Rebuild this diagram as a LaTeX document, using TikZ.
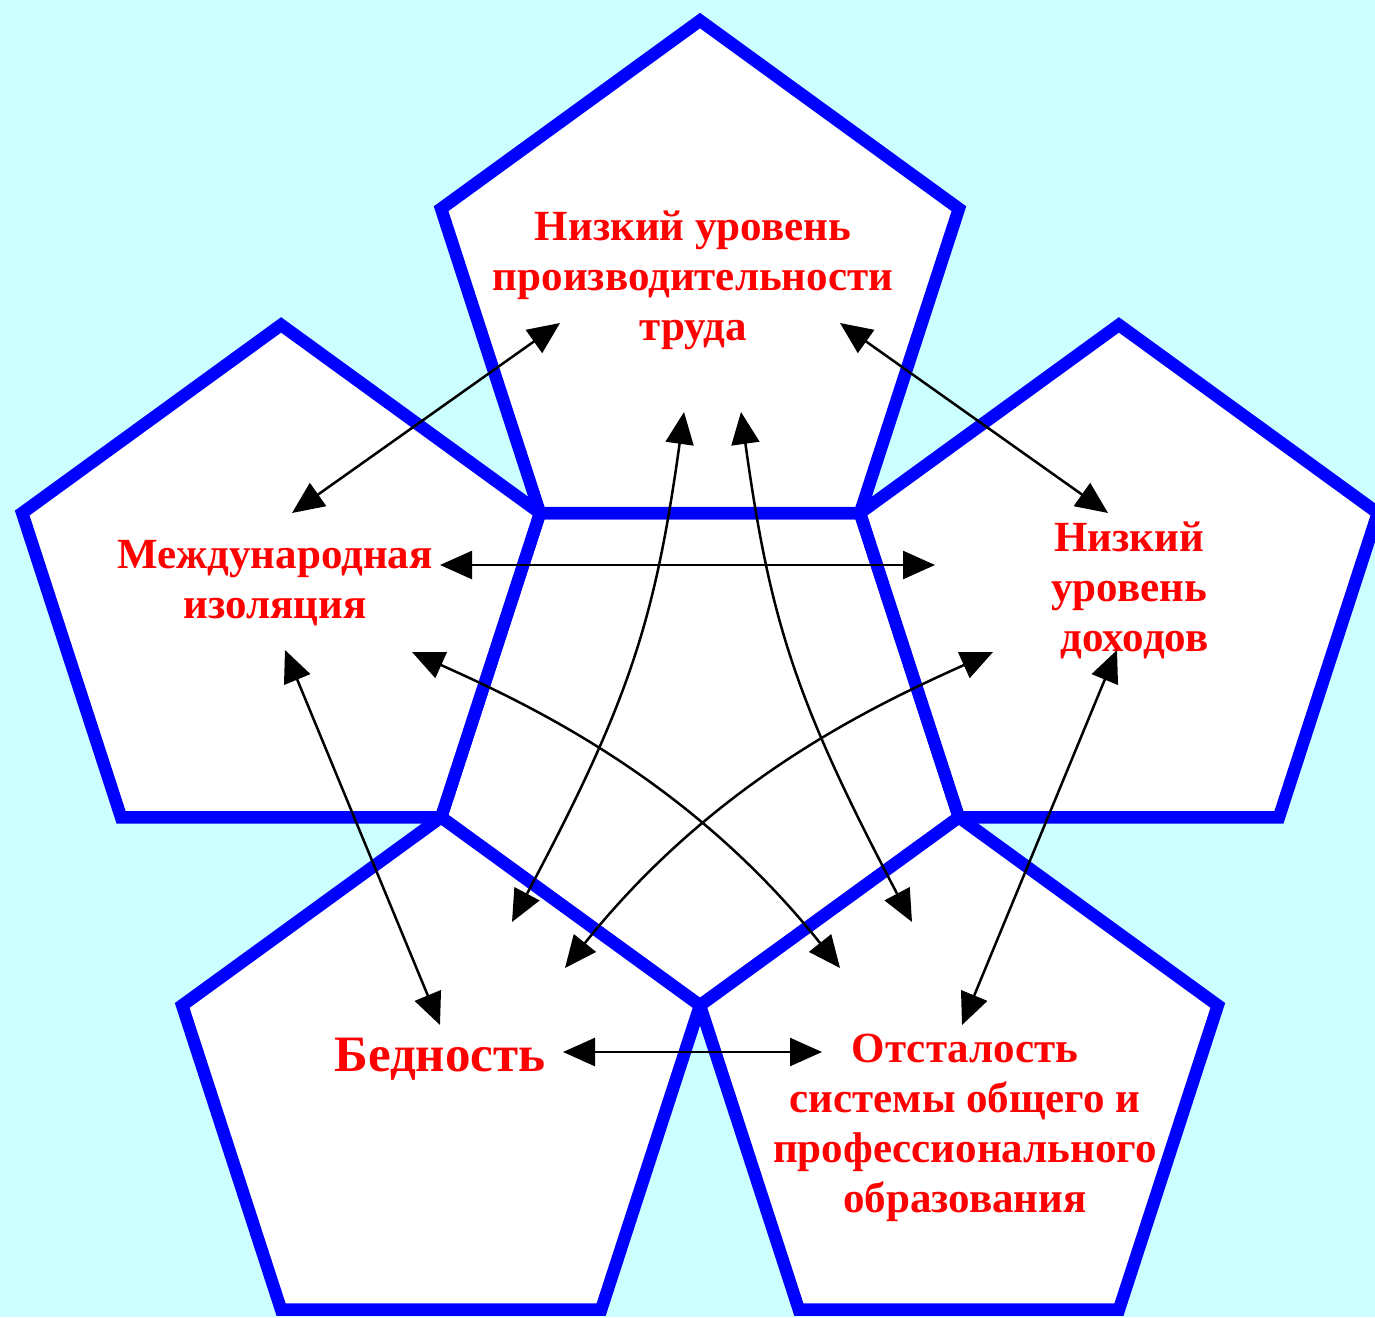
\documentclass[tikz,border=0pt]{standalone}
\usepackage{fontspec}
\setmainfont{Liberation Serif}
\usetikzlibrary{arrows.meta}
\definecolor{bgcyan}{RGB}{204,255,255}
\definecolor{pblue}{RGB}{0,0,255}
\definecolor{tred}{RGB}{255,0,0}
\begin{document}
\begin{tikzpicture}[x=1pt,y=-1pt,
  pent/.style={draw=pblue, fill=white, line width=12.5pt, line join=miter},
  lbl/.style={text=tred, font=\fontsize{43}{50}\selectfont\bfseries, align=center, inner sep=0pt},
  conn/.style={line width=2.5pt, {Triangle[length=32pt,width=28pt]}-{Triangle[length=32pt,width=28pt]}}
]
\useasboundingbox (0,0) rectangle (1375,1317);
\fill[bgcyan] (0,0) rectangle (1375,1317);

% central pentagon
\coordinate (D) at (540,513);
\coordinate (E) at (860,513);
\coordinate (M) at (958.9,817.3);
\coordinate (N) at (700,1005.4);
\coordinate (I) at (441.1,817.3);
% top pentagon
\coordinate (TL) at (441.1,208.7);
\coordinate (TA) at (700,20.6);
\coordinate (TR) at (958.9,208.7);
% left pentagon
\coordinate (LT) at (281.1,324.9);
\coordinate (LL) at (22.2,513);
\coordinate (LB) at (121.1,817.3);
% right pentagon
\coordinate (RT) at (1118.9,324.9);
\coordinate (RR) at (1377.8,513);
\coordinate (RB) at (1278.9,817.3);
% bottom-left pentagon
\coordinate (BLL) at (182.2,1005.4);
\coordinate (BLa) at (281.1,1309.7);
\coordinate (BLb) at (601.1,1309.7);
% bottom-right pentagon
\coordinate (BRa) at (798.9,1309.7);
\coordinate (BRb) at (1118.9,1309.7);
\coordinate (BRR) at (1217.8,1005.4);

\filldraw[pent] (D)--(E)--(M)--(N)--(I)--cycle;
\filldraw[pent] (D)--(TL)--(TA)--(TR)--(E)--cycle;
\filldraw[pent] (D)--(LT)--(LL)--(LB)--(I)--cycle;
\filldraw[pent] (E)--(RT)--(RR)--(RB)--(M)--cycle;
\filldraw[pent] (I)--(BLL)--(BLa)--(BLb)--(N)--cycle;
\filldraw[pent] (N)--(BRa)--(BRb)--(BRR)--(M)--cycle;

% labels
\node[lbl] (top) at (693,280) {Низкий уровень\\производительности\\труда};
\node[lbl] (left) at (275,583) {Международная\\изоляция};
\node[lbl] (right) at (1129,590) {Низкий\\уровень\\\hspace*{11pt}доходов};
\node[lbl, font=\fontsize{51}{58}\selectfont\bfseries] (bed) at (440,1059) {Бедность};
\node[lbl] (ots) at (965,1128) {Отсталость\\системы общего и\\профессионального\\образования};

% arrow end points
\coordinate (t1) at (560,323);
\coordinate (l1) at (292,513);
\coordinate (t2) at (840,323);
\coordinate (r1) at (1108,513);
\coordinate (l2) at (440,565);
\coordinate (r2) at (935,565);
\coordinate (t3) at (684,412);
\coordinate (b1) at (512,922);
\coordinate (t4) at (741,412);
\coordinate (o1) at (912,922);
\coordinate (l3) at (412,652);
\coordinate (o2) at (840,968);
\coordinate (r3) at (993,652);
\coordinate (b2) at (565,968);
\coordinate (l4) at (285,650);
\coordinate (b3) at (440,1025);
\coordinate (r4) at (1117,650);
\coordinate (o3) at (962,1025);
\coordinate (b4) at (563,1052);
\coordinate (o4) at (822,1052);

\draw[conn] (t1) -- (l1);
\draw[conn] (t2) -- (r1);
\draw[conn] (l2) -- (r2);
\draw[conn] (t3) .. controls (655,620) and (630,700) .. (b1);
\draw[conn] (t4) .. controls (770,620) and (795,700) .. (o1);
\draw[conn] (l3) .. controls (530,705) and (690,780) .. (o2);
\draw[conn] (r3) .. controls (875,705) and (715,780) .. (b2);
\draw[conn] (l4) -- (b3);
\draw[conn] (r4) -- (o3);
\draw[conn] (b4) -- (o4);
\end{tikzpicture}
\end{document}
